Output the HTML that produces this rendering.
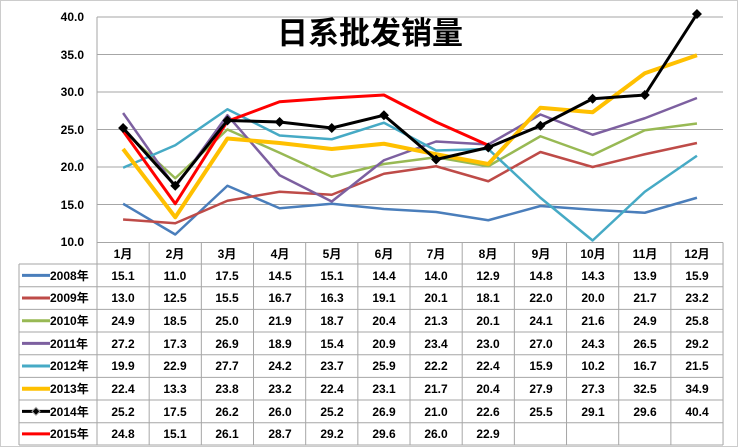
<!DOCTYPE html>
<html><head><meta charset="utf-8"><style>
body{margin:0;background:#fff}
svg{display:block}
text{font-family:"Liberation Sans","Noto Sans CJK SC",sans-serif;font-weight:bold;fill:#000}
</style></head><body>
<svg id="s" width="738" height="447" xmlns="http://www.w3.org/2000/svg">
<rect x="0.5" y="0.5" width="737" height="446" fill="#fff" stroke="#999" stroke-dasharray="1,1"/>
<g stroke="#a6a6a6" stroke-width="1">
<line x1="97" y1="17" x2="723" y2="17"/><line x1="97" y1="54.5" x2="723" y2="54.5"/>
<line x1="97" y1="92" x2="723" y2="92"/><line x1="97" y1="129.5" x2="723" y2="129.5"/>
<line x1="97" y1="167" x2="723" y2="167"/><line x1="97" y1="204.5" x2="723" y2="204.5"/>
<line x1="97" y1="17" x2="97" y2="445"/>
</g>
<g font-size="12" text-anchor="end">
<text x="84" y="21">40.0</text><text x="84" y="59">35.0</text><text x="84" y="96">30.0</text>
<text x="84" y="134">25.0</text><text x="84" y="171">20.0</text><text x="84" y="209">15.0</text>
<text x="84" y="246">10.0</text>
</g>
<text x="370" y="44" font-size="31" text-anchor="middle">日系批发销量</text>
<g id="lines"></g>
<g id="tbl" stroke="#a6a6a6" stroke-width="1"></g>
<g font-size="12" text-anchor="middle" id="hdr">
<text x="123" y="258">1月</text><text x="175" y="258">2月</text><text x="227" y="258">3月</text>
<text x="280" y="258">4月</text><text x="332" y="258">5月</text><text x="384" y="258">6月</text>
<text x="436" y="258">7月</text><text x="488" y="258">8月</text><text x="541" y="258">9月</text>
<text x="593" y="258">10月</text><text x="645" y="258">11月</text><text x="697" y="258">12月</text>
</g>
<g font-size="12" id="leg">
<text x="50" y="280">2008年</text><text x="50" y="302">2009年</text><text x="50" y="325">2010年</text>
<text x="50" y="348">2011年</text><text x="50" y="370">2012年</text><text x="50" y="393">2013年</text>
<text x="50" y="416">2014年</text><text x="50" y="438">2015年</text>
</g>
<g font-size="12" text-anchor="middle">
<text x="123" y="280">15.1</text><text x="175" y="280">11.0</text><text x="227" y="280">17.5</text><text x="280" y="280">14.5</text><text x="332" y="280">15.1</text><text x="384" y="280">14.4</text><text x="436" y="280">14.0</text><text x="488" y="280">12.9</text><text x="541" y="280">14.8</text><text x="593" y="280">14.3</text><text x="645" y="280">13.9</text><text x="697" y="280">15.9</text>
<text x="123" y="302">13.0</text><text x="175" y="302">12.5</text><text x="227" y="302">15.5</text><text x="280" y="302">16.7</text><text x="332" y="302">16.3</text><text x="384" y="302">19.1</text><text x="436" y="302">20.1</text><text x="488" y="302">18.1</text><text x="541" y="302">22.0</text><text x="593" y="302">20.0</text><text x="645" y="302">21.7</text><text x="697" y="302">23.2</text>
<text x="123" y="325">24.9</text><text x="175" y="325">18.5</text><text x="227" y="325">25.0</text><text x="280" y="325">21.9</text><text x="332" y="325">18.7</text><text x="384" y="325">20.4</text><text x="436" y="325">21.3</text><text x="488" y="325">20.1</text><text x="541" y="325">24.1</text><text x="593" y="325">21.6</text><text x="645" y="325">24.9</text><text x="697" y="325">25.8</text>
<text x="123" y="348">27.2</text><text x="175" y="348">17.3</text><text x="227" y="348">26.9</text><text x="280" y="348">18.9</text><text x="332" y="348">15.4</text><text x="384" y="348">20.9</text><text x="436" y="348">23.4</text><text x="488" y="348">23.0</text><text x="541" y="348">27.0</text><text x="593" y="348">24.3</text><text x="645" y="348">26.5</text><text x="697" y="348">29.2</text>
<text x="123" y="370">19.9</text><text x="175" y="370">22.9</text><text x="227" y="370">27.7</text><text x="280" y="370">24.2</text><text x="332" y="370">23.7</text><text x="384" y="370">25.9</text><text x="436" y="370">22.2</text><text x="488" y="370">22.4</text><text x="541" y="370">15.9</text><text x="593" y="370">10.2</text><text x="645" y="370">16.7</text><text x="697" y="370">21.5</text>
<text x="123" y="393">22.4</text><text x="175" y="393">13.3</text><text x="227" y="393">23.8</text><text x="280" y="393">23.2</text><text x="332" y="393">22.4</text><text x="384" y="393">23.1</text><text x="436" y="393">21.7</text><text x="488" y="393">20.4</text><text x="541" y="393">27.9</text><text x="593" y="393">27.3</text><text x="645" y="393">32.5</text><text x="697" y="393">34.9</text>
<text x="123" y="416">25.2</text><text x="175" y="416">17.5</text><text x="227" y="416">26.2</text><text x="280" y="416">26.0</text><text x="332" y="416">25.2</text><text x="384" y="416">26.9</text><text x="436" y="416">21.0</text><text x="488" y="416">22.6</text><text x="541" y="416">25.5</text><text x="593" y="416">29.1</text><text x="645" y="416">29.6</text><text x="697" y="416">40.4</text>
<text x="123" y="438">24.8</text><text x="175" y="438">15.1</text><text x="227" y="438">26.1</text><text x="280" y="438">28.7</text><text x="332" y="438">29.2</text><text x="384" y="438">29.6</text><text x="436" y="438">26.0</text><text x="488" y="438">22.9</text>
</g>
</svg>
<script>
var D=[
["#4a7ebb",2.5,[15.1,11.0,17.5,14.5,15.1,14.4,14.0,12.9,14.8,14.3,13.9,15.9]],
["#be4b48",2.5,[13.0,12.5,15.5,16.7,16.3,19.1,20.1,18.1,22.0,20.0,21.7,23.2]],
["#98b954",2.5,[24.9,18.5,25.0,21.9,18.7,20.4,21.3,20.1,24.1,21.6,24.9,25.8]],
["#7d60a0",2.5,[27.2,17.3,26.9,18.9,15.4,20.9,23.4,23.0,27.0,24.3,26.5,29.2]],
["#46aac5",2.5,[19.9,22.9,27.7,24.2,23.7,25.9,22.2,22.4,15.9,10.2,16.7,21.5]],
["#ffc000",4,[22.4,13.3,23.8,23.2,22.4,23.1,21.7,20.4,27.9,27.3,32.5,34.9]],
["#ff0000",3,[24.8,15.1,26.1,28.7,29.2,29.6,26.0,22.9]],
["#000000",3,[25.2,17.5,26.2,26.0,25.2,26.9,21.0,22.6,25.5,29.1,29.6,40.4]]];
var ns="http://www.w3.org/2000/svg",L=document.getElementById("lines"),T=document.getElementById("tbl");
function el(n,a,p){var e=document.createElementNS(ns,n);for(var k in a)e.setAttribute(k,a[k]);p.appendChild(e);return e;}
function X(i){return 97+52.17*(i+0.5);}function Y(v){return 242-(v-10)*7.5;}
D.forEach(function(d){var pts=d[2].map(function(v,i){return X(i)+","+Y(v)}).join(" ");
el("polyline",{points:pts,fill:"none",stroke:d[0],"stroke-width":d[1],"stroke-linejoin":"round"},L);
if(d[0]=="#000000")d[2].forEach(function(v,i){var x=X(i),y=Y(v);el("polygon",{points:(x-5)+","+y+" "+x+","+(y-5)+" "+(x+5)+","+y+" "+x+","+(y+5),fill:"#000"},L);});});
// legend swatches
var lc=["#4a7ebb","#be4b48","#98b954","#7d60a0","#46aac5","#ffc000","#000000","#ff0000"];
var rows=[242.5,264,286.7,309.4,332,354.7,377.4,400,422.7,445];
for(var r=0;r<8;r++){var cy=(rows[r+1]+rows[r+2])/2;el("line",{x1:22,y1:cy,x2:50,y2:cy,stroke:lc[r],"stroke-width":r==5?4:3},T);
if(r==6)el("polygon",{points:"32,"+cy+" 36,"+(cy-4)+" 40,"+cy+" 36,"+(cy+4),fill:"#000"},T);}
el("line",{x1:97,y1:242.5,x2:723,y2:242.5},T);
for(var r=1;r<rows.length;r++)el("line",{x1:19,y1:rows[r],x2:723,y2:rows[r]},T);
el("line",{x1:19,y1:264,x2:19,y2:445},T);
for(var c=1;c<=12;c++){var x=97+52.17*c;el("line",{x1:x,y1:242.5,x2:x,y2:445},T);}
</script>
</body></html>
